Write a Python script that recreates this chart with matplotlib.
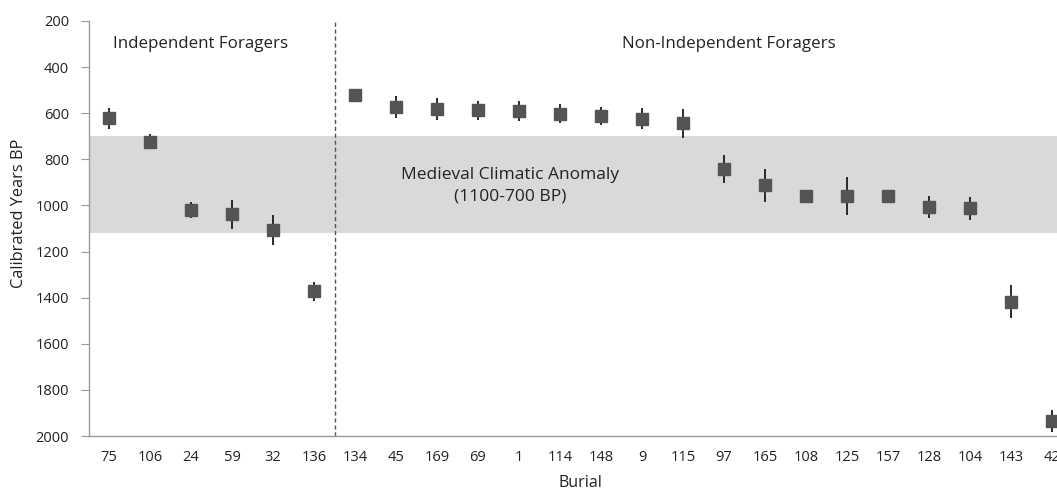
import matplotlib
matplotlib.use("Agg")
import matplotlib.pyplot as plt

burials = ["75", "106", "24", "59", "32", "136", "134", "45", "169", "69", "1",
           "114", "148", "9", "115", "97", "165", "108", "125", "157", "128",
           "104", "143", "42"]
dates = [622, 723, 1019, 1039, 1106, 1373, 519, 573, 581, 588, 591,
         603, 613, 623, 643, 843, 912, 959, 959, 959, 1007,
         1013, 1417, 1935]
errors = [45, 32, 35, 63, 66, 40, 0, 46, 48, 42, 43,
          41, 40, 45, 63, 60, 72, 0, 81, 0, 49,
          48, 70, 49]
n_independent = 6
mca_top, mca_bottom = 700, 1120

plt.rcParams['font.family'] = ['Open Sans', 'DejaVu Sans']

fig = plt.figure(figsize=(10.57, 4.90), dpi=100)
ax = fig.add_axes([88.5 / 1057, 54 / 490, 984 / 1057, 415 / 490])

x = list(range(len(burials)))
ax.axhspan(mca_top, mca_bottom, color="#d9d9d9", zorder=0, lw=0)
ax.errorbar(x, dates, yerr=errors, fmt="s", ms=8.2, mfc="#545454", mec="#545454",
            ecolor="#1a1a1a", elinewidth=1.3, capsize=0, zorder=3)
ax.axvline(n_independent - 0.5, color="#555555", ls=(0, (3, 2)), lw=1.0, zorder=2)

ax.set_xlim(-0.5, len(burials) - 0.5)
ax.set_ylim(2000, 200)
ax.set_yticks(range(200, 2001, 200))
ax.set_xticks(x)
ax.set_xticklabels(burials)

for s in ["top", "right"]:
    ax.spines[s].set_visible(False)
for s in ["left", "bottom"]:
    ax.spines[s].set_color("#9a9a9a")
    ax.spines[s].set_linewidth(1.0)
ax.tick_params(axis="y", length=6, color="#9a9a9a", labelsize=10.5, labelcolor="#222222", pad=8)
ax.tick_params(axis="x", length=0, labelsize=10.5, labelcolor="#222222", pad=10)

ax.set_ylabel("Calibrated Years BP", fontsize=11.8, color="#222222")
ax.yaxis.set_label_coords(-0.0625, 0.537)
ax.set_xlabel("Burial", fontsize=11.5, color="#222222", labelpad=7)

ax.text(2.23, 300, "Independent Foragers", ha="center", va="center", fontsize=12.2, color="#222222")
ax.text(15.12, 300, "Non-Independent Foragers", ha="center", va="center", fontsize=12.2, color="#222222")
ax.text(9.78, 915, "Medieval Climatic Anomaly\n(1100-700 BP)", ha="center", va="center",
        fontsize=12.5, color="#222222", linespacing=1.4)

fig.savefig("out.png", dpi=100)
